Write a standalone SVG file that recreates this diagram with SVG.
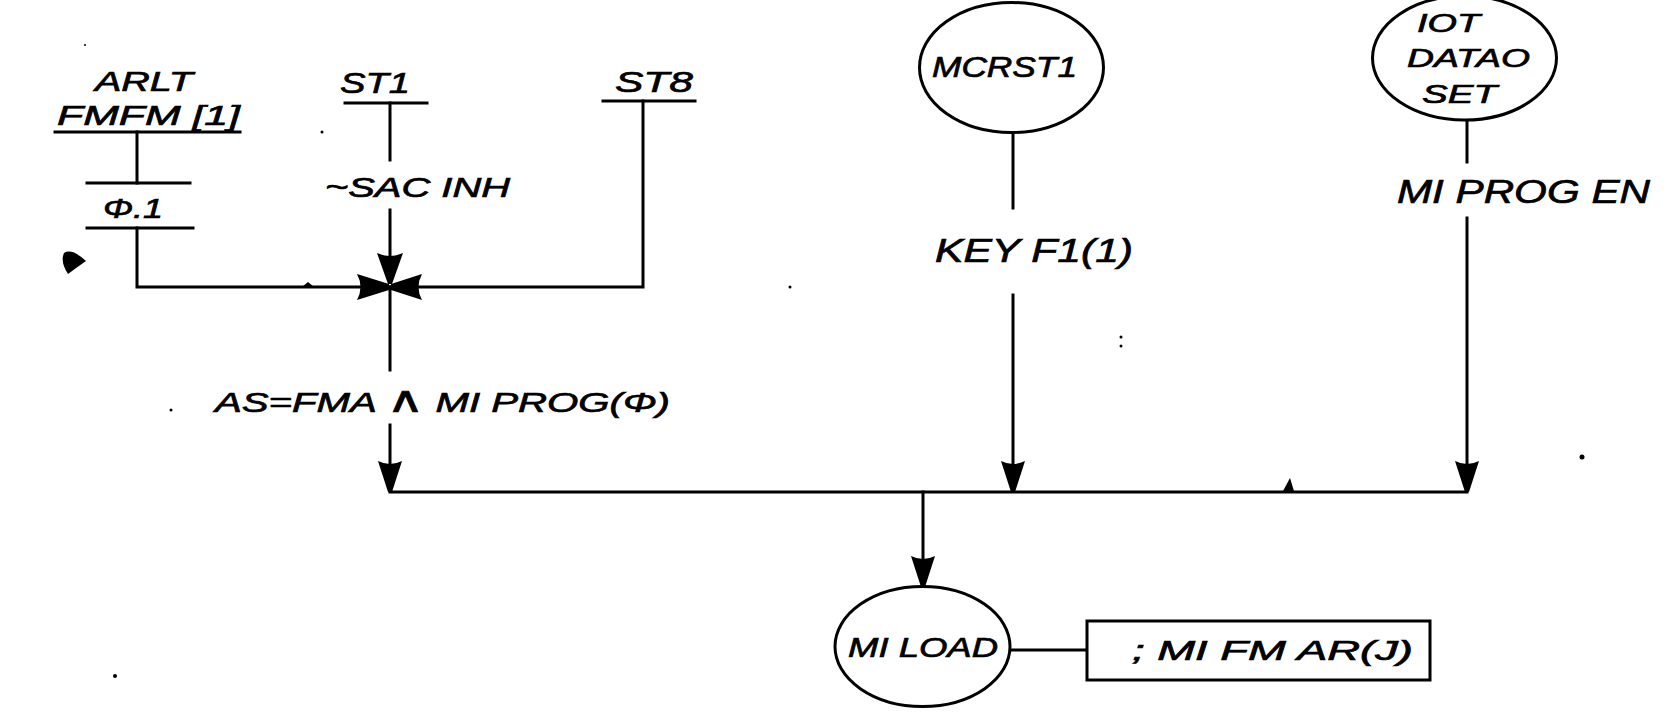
<svg xmlns="http://www.w3.org/2000/svg" width="1675" height="716" viewBox="0 0 1675 716">
<style>
  .bg { fill: #ffffff; }
  .ln { stroke: #000; stroke-width: 3; fill: none; stroke-linecap: square; stroke-linejoin: miter; }
  .shape { stroke: #000; stroke-width: 3; fill: #ffffff; }
  .t { font-family: "Liberation Sans", "DejaVu Sans", sans-serif; font-style: italic; fill: #000; stroke: #000; stroke-width: 0.7; }
  .ink { fill: #000; }
</style>
<defs>
  <path id="arrowDown" d="M-12,-31 Q0,-25 12,-31 L2,0 L-2,0 Z" fill="#000"/>
</defs>
<rect class="bg" x="0" y="0" width="1675" height="716"/>

<g id="connectors">
  <line class="ln" x1="137" y1="132" x2="137" y2="183"/>
  <polyline class="ln" points="137,228 137,287 390,287"/>
  <line class="ln" x1="390" y1="103" x2="390" y2="160"/>
  <line class="ln" x1="390" y1="210" x2="390" y2="280"/>
  <path class="ink" d="M377,253 Q390,259 403,253 L392,284 L388,284 Z"/>
  <polyline class="ln" points="643,101 643,287 390,287"/>
  <path class="ink" d="M357,274 Q364,287 357,300 L389,290 L389,284 Z"/>
  <path class="ink" d="M422,274 Q415,287 422,300 L391,290 L391,284 Z"/>
  <line class="ln" x1="390" y1="287" x2="390" y2="370"/>
  <line class="ln" x1="390" y1="425" x2="390" y2="488"/>
  <use href="#arrowDown" x="390" y="492"/>
  <line class="ln" x1="1013" y1="133" x2="1013" y2="208"/>
  <line class="ln" x1="1013" y1="295" x2="1013" y2="488"/>
  <use href="#arrowDown" x="1013" y="492"/>
  <line class="ln" x1="1467" y1="120" x2="1467" y2="162"/>
  <line class="ln" x1="1467" y1="218" x2="1467" y2="488"/>
  <use href="#arrowDown" x="1467" y="492"/>
  <line class="ln" x1="390" y1="492" x2="1467" y2="492"/>
  <line class="ln" x1="923" y1="492" x2="923" y2="583"/>
  <use href="#arrowDown" x="923" y="587"/>
  <line class="ln" x1="1010" y1="650" x2="1087" y2="650"/>
  <text class="t" x="325" y="197" font-size="28" textLength="185" lengthAdjust="spacingAndGlyphs">~SAC INH</text>
  <text class="t" x="215" y="412" font-size="28" textLength="455" lengthAdjust="spacingAndGlyphs">AS=FMA <tspan font-size="36">∧</tspan> MI PROG(Φ)</text>
  <text class="t" x="935" y="262" font-size="33" textLength="198" lengthAdjust="spacingAndGlyphs">KEY F1(1)</text>
  <text class="t" x="1397" y="203" font-size="34" textLength="253" lengthAdjust="spacingAndGlyphs">MI PROG EN</text>
</g>

<g id="node-arlt">
  <text class="t" x="95" y="91" font-size="28" textLength="98" lengthAdjust="spacingAndGlyphs">ARLT</text>
  <text class="t" x="57" y="125" font-size="28" textLength="183" lengthAdjust="spacingAndGlyphs">FMFM [1]</text>
  <line class="ln" x1="55" y1="132" x2="240" y2="132"/>
</g>

<g id="node-phi1">
  <line class="ln" x1="87" y1="183" x2="190" y2="183"/>
  <text class="t" x="103" y="218" font-size="28" textLength="60" lengthAdjust="spacingAndGlyphs">Φ.1</text>
  <line class="ln" x1="87" y1="228" x2="193" y2="228"/>
</g>

<g id="node-st1">
  <text class="t" x="340" y="93" font-size="30" textLength="70" lengthAdjust="spacingAndGlyphs">ST1</text>
  <line class="ln" x1="345" y1="103" x2="427" y2="103"/>
</g>

<g id="node-st8">
  <text class="t" x="615" y="92" font-size="30" textLength="78" lengthAdjust="spacingAndGlyphs">ST8</text>
  <line class="ln" x1="603" y1="101" x2="695" y2="101"/>
</g>

<g id="node-mcrst1">
  <ellipse class="shape" cx="1011.5" cy="67.5" rx="92" ry="65"/>
  <text class="t" x="932" y="77" font-size="30" textLength="145" lengthAdjust="spacingAndGlyphs">MCRST1</text>
</g>

<g id="node-iot">
  <ellipse class="shape" cx="1464.5" cy="58" rx="92" ry="62"/>
  <text class="t" x="1417" y="32" font-size="26" textLength="63" lengthAdjust="spacingAndGlyphs">IOT</text>
  <text class="t" x="1407" y="67" font-size="26" textLength="123" lengthAdjust="spacingAndGlyphs">DATAO</text>
  <text class="t" x="1422" y="103" font-size="26" textLength="75" lengthAdjust="spacingAndGlyphs">SET</text>
</g>

<g id="node-miload">
  <ellipse class="shape" cx="922.5" cy="646.5" rx="87.5" ry="60"/>
  <text class="t" x="848" y="657" font-size="28" textLength="150" lengthAdjust="spacingAndGlyphs">MI LOAD</text>
</g>

<g id="node-box">
  <rect class="shape" x="1087" y="621" width="343" height="59"/>
  <text class="t" x="1132" y="660" font-size="28" textLength="281" lengthAdjust="spacingAndGlyphs">; MI FM AR(J)</text>
</g>

<g id="specks">
  <path class="ink" d="M64,253 Q72,248 86,261 Q76,268 68,274 Q60,262 64,253 Z"/>
  <circle class="ink" cx="322" cy="132" r="1.5"/>
  <circle class="ink" cx="85" cy="45" r="1"/>
  <circle class="ink" cx="171" cy="410" r="1.5"/>
  <circle class="ink" cx="115" cy="676" r="2"/>
  <circle class="ink" cx="1582" cy="457" r="2.5"/>
  <circle class="ink" cx="1121" cy="337" r="1.5"/>
  <circle class="ink" cx="1121" cy="346" r="1.5"/>
  <circle class="ink" cx="790" cy="287" r="1.5"/>
  <path class="ink" d="M1283,491 L1290,478 L1294,491 Z"/>
  <path class="ink" d="M302,287 L308,282 L314,287 Z"/>
</g>
</svg>
